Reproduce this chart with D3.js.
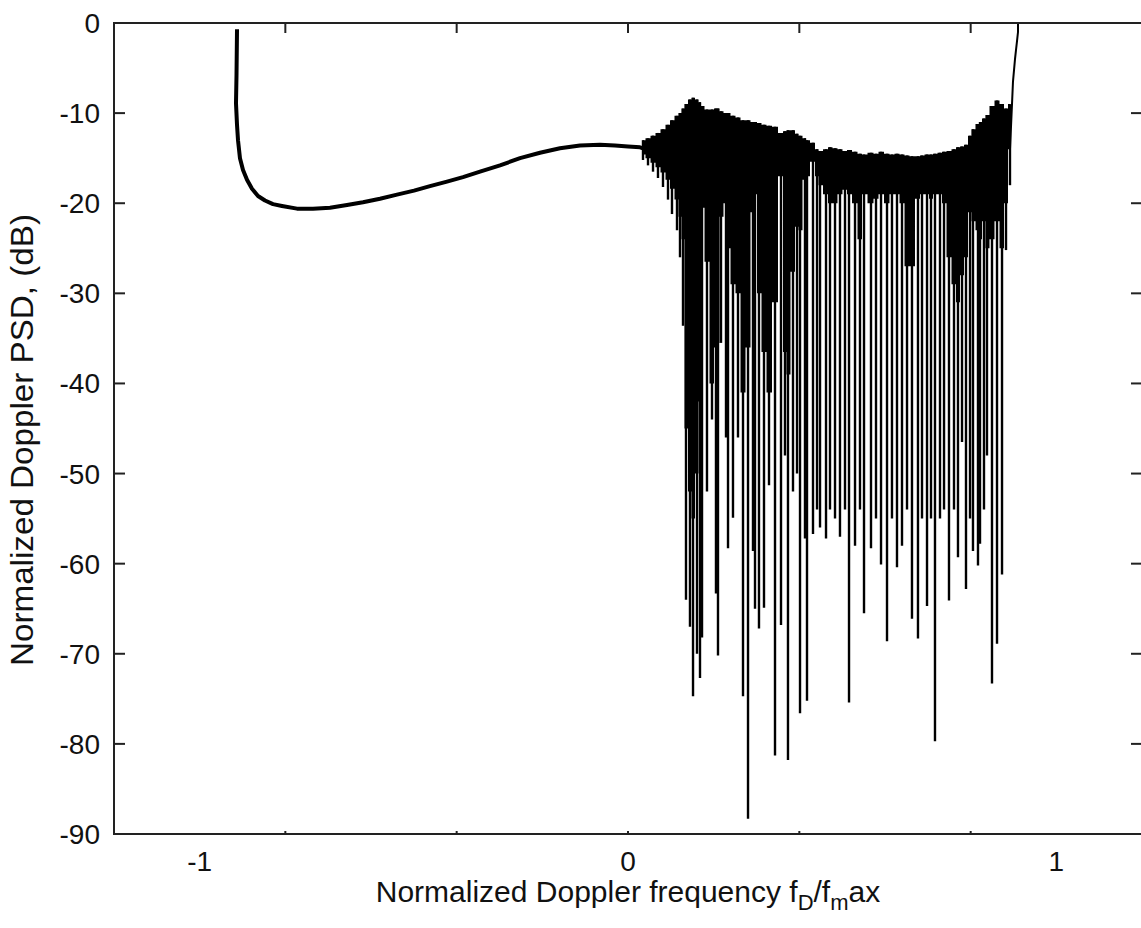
<!DOCTYPE html>
<html>
<head>
<meta charset="utf-8">
<script src="https://cdn.jsdelivr.net/npm/d3@7"></script>
<style>
body { margin: 0; background: #fff; }
text { font-family: "Liberation Sans", Arial, sans-serif; fill: #111; }
</style>
</head>
<body>
<div id="chart"></div>
<script>
let width = 1141, height = 928;

let margin = ({top: 23, right: -1, bottom: 94, left: 114});

// smooth part of the spectrum, f = f_D/f_max, psd in dB
let smoothF = [-0.9128, -0.9140, -0.9152, -0.9128, -0.9105, -0.9059, -0.8988, -0.8895,
    -0.8778, -0.8638, -0.8475, -0.8288, -0.8078, -0.7728, -0.7354, -0.6957, -0.6560,
    -0.6187, -0.5790, -0.5393, -0.4996, -0.4623, -0.4226, -0.3852, -0.3455, -0.2988,
    -0.2521, -0.2054, -0.1588, -0.1121, -0.0654, -0.0304, 0.0, 0.0280, 0.0350];
let smoothDb = [-0.7, -5.8, -8.9, -11.3, -13.0, -15.0, -16.3, -17.4,
    -18.4, -19.2, -19.7, -20.1, -20.3, -20.6, -20.6, -20.5, -20.2,
    -19.9, -19.5, -19.05, -18.6, -18.1, -17.6, -17.1, -16.5, -15.8,
    -15.0, -14.4, -13.9, -13.6, -13.5, -13.6, -13.7, -13.8, -13.9];

// ripple part: one entry per notch
let notchF = [0.0350, 0.0467, 0.0584, 0.0700, 0.0817, 0.0934, 0.1027, 0.1144, 0.1214, 0.1284,
    0.1354, 0.1447, 0.1518, 0.1611, 0.1681, 0.1728, 0.1844, 0.1961, 0.2054, 0.2101,
    0.2171, 0.2288, 0.2335, 0.2451, 0.2568, 0.2685, 0.2802, 0.2918, 0.2965, 0.3058,
    0.3175, 0.3292, 0.3432, 0.3572, 0.3665, 0.3735, 0.3852, 0.3946, 0.4016, 0.4132,
    0.4179, 0.4319, 0.4413, 0.4483, 0.4623, 0.4716, 0.4833, 0.4949, 0.5066, 0.5160,
    0.5300, 0.5416, 0.5510, 0.5673, 0.5790, 0.5907, 0.6047, 0.6163, 0.6280, 0.6397,
    0.6514, 0.6630, 0.6770, 0.6864, 0.6981, 0.7074, 0.7167, 0.7284, 0.7378, 0.7494,
    0.7611, 0.7704, 0.7798, 0.7891, 0.7985, 0.8054, 0.8171, 0.8218, 0.8311, 0.8381,
    0.8498, 0.8615, 0.8732, 0.8825, 0.8918];
let notchTop = [-13.0, -12.8, -12.5, -12.2, -11.8, -11.3, -10.8, -10.3, -10.0, -9.5,
    -9.0, -8.5, -8.3, -8.5, -8.8, -9.2, -9.6, -9.6, -9.5, -9.5,
    -9.8, -10.0, -10.0, -10.3, -10.5, -10.8, -10.8, -11.0, -11.0, -11.1,
    -11.3, -11.4, -11.5, -12.2, -12.0, -11.9, -11.9, -12.3, -12.5, -12.8,
    -13.0, -13.3, -14.0, -14.2, -14.0, -13.8, -13.9, -14.0, -14.2, -14.1,
    -14.3, -14.5, -14.6, -14.4, -14.5, -14.3, -14.5, -14.6, -14.5, -14.6,
    -14.7, -14.8, -14.8, -14.7, -14.6, -14.6, -14.5, -14.4, -14.3, -14.2,
    -14.0, -13.8, -13.7, -13.5, -12.5, -11.8, -11.2, -11.0, -10.6, -10.2,
    -9.2, -8.6, -9.0, -9.5, -9.0];
let notchDeep = [-15.2, -15.8, -16.5, -17.2, -18.2, -19.6, -21.2, -23.0, -26.0, -33.6,
    -64.0, -67.0, -74.7, -70.0, -72.7, -68.2, -52.0, -44.0, -63.3, -70.2,
    -35.5, -46.0, -58.3, -54.9, -46.0, -74.7, -88.3, -58.6, -65.0, -67.2,
    -64.9, -51.3, -81.3, -66.8, -48.0, -81.8, -52.0, -50.0, -76.6, -57.2,
    -75.2, -56.7, -54.0, -56.0, -57.2, -54.0, -55.0, -57.0, -54.0, -75.4,
    -58.0, -54.0, -65.5, -58.3, -55.0, -60.1, -68.6, -55.0, -60.4, -58.0,
    -54.0, -66.1, -68.3, -55.0, -64.7, -55.0, -79.7, -55.0, -54.0, -64.1,
    -54.0, -59.3, -46.5, -62.8, -55.0, -58.6, -60.2, -57.8, -54.0, -48.0,
    -73.3, -68.9, -61.2, -25.2, -18.0];
let notchFill = [-14.6, -15.0, -15.5, -16.0, -16.6, -17.4, -18.4, -19.6, -21.5, -24.0,
    -45.0, -52.0, -55.0, -50.0, -42.0, -20.5, -26.5, -40.0, -36.0, -35.5,
    -21.5, -20.0, -25.0, -29.0, -30.0, -41.0, -36.0, -21.0, -19.0, -30.0,
    -36.5, -41.0, -31.0, -17.0, -36.5, -39.0, -27.6, -22.6, -23.0, -17.4,
    -17.0, -15.4, -17.0, -18.0, -19.0, -20.0, -20.0, -19.0, -18.5, -19.0,
    -20.0, -24.0, -19.0, -20.0, -19.5, -19.0, -20.0, -19.0, -19.0, -20.0,
    -27.0, -27.0, -19.5, -19.0, -19.0, -19.5, -19.0, -19.0, -20.0, -26.0,
    -29.0, -31.0, -28.0, -26.0, -21.0, -22.0, -23.0, -24.0, -22.0, -25.0,
    -24.0, -22.0, -25.0, -20.0, -14.0];

// band edge at the right
let edgeF = [0.8918, 0.8965, 0.8988, 0.9035, 0.9058, 0.9082, 0.9105, 0.9105];
let edgeDb = [-14.0, -9.0, -6.5, -4.0, -3.0, -2.0, -1.0, 0.5];

let yTicks = [0, -10, -20, -30, -40, -50, -60, -70, -80, -90];
let xTicks = [-0.8, -0.4, 0, 0.4, 0.8];
let xLabels = [-1, 0, 1];

let xScale = d3.scaleLinear()
    .domain([-1.2, 1.2])
    .range([margin.left, 1142]);

let yScale = d3.scaleLinear()
    .domain([-90, 0])
    .range([834, margin.top]);

let svg = d3.select("#chart")
    .append("svg")
    .attr("width", width)
    .attr("height", height);

svg.append("rect")
    .attr("width", width)
    .attr("height", height)
    .attr("fill", "#fff");

svg.append("defs").append("clipPath")
    .attr("id", "plotClip")
    .append("rect")
    .attr("x", xScale(-1.2))
    .attr("y", yScale(0))
    .attr("width", xScale(1.2) - xScale(-1.2))
    .attr("height", yScale(-90) - yScale(0));

let plot = svg.append("g").attr("clip-path", "url(#plotClip)");

let smoothData = smoothF.map(function(f, i) { return {f: f, db: smoothDb[i]}; });
let notchData = notchF.map(function(f, i) {
    return {f: f, top: notchTop[i], deep: notchDeep[i], fill: notchFill[i]};
});
let edgeData = edgeF.map(function(f, i) { return {f: f, db: edgeDb[i]}; });

let line = d3.line()
    .x(function(d) { return xScale(d.f); })
    .y(function(d) { return yScale(d.db); });

plot.append("path")
    .datum(smoothData)
    .attr("fill", "none")
    .attr("stroke", "#000")
    .attr("stroke-width", 4)
    .attr("stroke-linejoin", "round")
    .attr("d", line);

// solid part of the ripple
let area = d3.area()
    .x(function(d) { return xScale(d.f); })
    .y0(function(d) { return yScale(d.fill); })
    .y1(function(d) { return yScale(d.top); })
    .curve(d3.curveStep);

plot.append("path")
    .datum(notchData)
    .attr("fill", "#000")
    .attr("d", area);

// deep notches
plot.selectAll(".notch")
    .data(notchData)
    .enter()
    .append("line")
    .attr("class", "notch")
    .attr("x1", function(d) { return xScale(d.f); })
    .attr("x2", function(d) { return xScale(d.f); })
    .attr("y1", function(d) { return yScale(d.top); })
    .attr("y2", function(d) { return yScale(d.deep); })
    .attr("stroke", "#000")
    .attr("stroke-width", 2.4);

plot.append("path")
    .datum(edgeData)
    .attr("fill", "none")
    .attr("stroke", "#000")
    .attr("stroke-width", 2)
    .attr("d", line);

// axes box
let axisColor = "#222";

svg.append("rect")
    .attr("x", xScale(-1.2))
    .attr("y", yScale(0))
    .attr("width", xScale(1.2) - xScale(-1.2))
    .attr("height", yScale(-90) - yScale(0))
    .attr("fill", "none")
    .attr("stroke", axisColor)
    .attr("stroke-width", 2);

// y ticks, both sides
svg.selectAll(".ytickL")
    .data(yTicks)
    .enter()
    .append("line")
    .attr("x1", xScale(-1.2))
    .attr("x2", xScale(-1.2) + 11)
    .attr("y1", function(d) { return yScale(d); })
    .attr("y2", function(d) { return yScale(d); })
    .attr("stroke", axisColor)
    .attr("stroke-width", 2);

svg.selectAll(".ytickR")
    .data(yTicks)
    .enter()
    .append("line")
    .attr("x1", xScale(1.2))
    .attr("x2", xScale(1.2) - 11)
    .attr("y1", function(d) { return yScale(d); })
    .attr("y2", function(d) { return yScale(d); })
    .attr("stroke", axisColor)
    .attr("stroke-width", 2);

svg.selectAll(".ylab")
    .data(yTicks)
    .enter()
    .append("text")
    .attr("x", 100)
    .attr("y", function(d) { return yScale(d) + 10; })
    .attr("text-anchor", "end")
    .style("font-size", "28px")
    .text(function(d) { return d < 0 ? "-" + Math.abs(d) : d; });

// x ticks, top and bottom
svg.selectAll(".xtickT")
    .data(xTicks)
    .enter()
    .append("line")
    .attr("x1", function(d) { return xScale(d); })
    .attr("x2", function(d) { return xScale(d); })
    .attr("y1", yScale(0))
    .attr("y2", yScale(0) + 10)
    .attr("stroke", axisColor)
    .attr("stroke-width", 2);

svg.selectAll(".xtickB")
    .data(xTicks)
    .enter()
    .append("line")
    .attr("x1", function(d) { return xScale(d); })
    .attr("x2", function(d) { return xScale(d); })
    .attr("y1", yScale(-90))
    .attr("y2", yScale(-90) - 3)
    .attr("stroke", axisColor)
    .attr("stroke-width", 2);

svg.selectAll(".xlab")
    .data(xLabels)
    .enter()
    .append("text")
    .attr("x", function(d) { return xScale(d); })
    .attr("y", 871)
    .attr("text-anchor", "middle")
    .style("font-size", "28px")
    .text(function(d) { return d < 0 ? "-" + Math.abs(d) : d; });

// axis titles
let xTitle = svg.append("text")
    .attr("x", 628)
    .attr("y", 902)
    .attr("text-anchor", "middle")
    .style("font-size", "30px");

xTitle.append("tspan").text("Normalized Doppler frequency f");
xTitle.append("tspan").attr("dy", 8).style("font-size", "22px").text("D");
xTitle.append("tspan").attr("dy", -8).text("/f");
xTitle.append("tspan").attr("dy", 8).style("font-size", "22px").text("m");
xTitle.append("tspan").attr("dy", -8).text("ax");

svg.append("text")
    .attr("transform", "translate(33,440) rotate(-90)")
    .attr("text-anchor", "middle")
    .attr("textLength", 452)
    .attr("lengthAdjust", "spacingAndGlyphs")
    .style("font-size", "31px")
    .text("Normalized Doppler PSD, (dB)");
</script>
</body>
</html>
